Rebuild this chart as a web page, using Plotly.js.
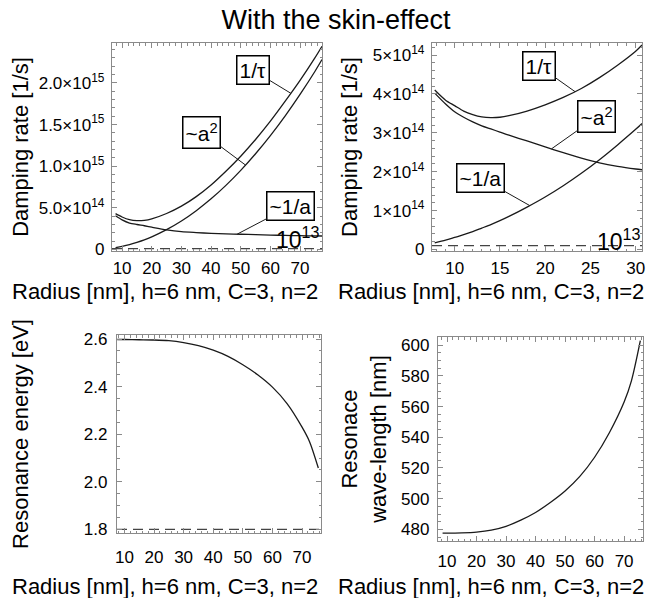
<!DOCTYPE html>
<html><head><meta charset="utf-8">
<script src="https://cdn.plot.ly/plotly-3.0.1.min.js"></script>
<style>html,body{margin:0;padding:0;background:#fff}#chart{width:649px;height:598px}</style>
</head><body><div id="chart"></div>
<script>
// ---------- Top-left panel: damping rates vs radius (1/s) ----------
const radiusTL = [7.8, 10, 12.5, 15, 17.5, 20, 25, 30, 35, 40, 45, 50, 55, 60, 65, 70, 75, 77.4];
const tauTL    = [4.30e14, 3.90e14, 3.58e14, 3.46e14, 3.50e14, 3.68e14, 4.32e14, 5.20e14, 6.35e14, 7.75e14, 9.40e14, 1.12e15, 1.32e15, 1.54e15, 1.78e15, 2.03e15, 2.30e15, 2.44e15];
const a2TL     = [2.3e13, 3.8e13, 5.9e13, 8.6e13, 1.16e14, 1.52e14, 2.38e14, 3.42e14, 4.66e14, 6.08e14, 7.70e14, 9.50e14, 1.15e15, 1.368e15, 1.605e15, 1.862e15, 2.137e15, 2.28e15];
const invaTL   = [4.05e14, 3.56e14, 3.18e14, 3.00e14, 2.85e14, 2.68e14, 2.36e14, 2.14e14, 2.03e14, 1.94e14, 1.88e14, 1.83e14, 1.78e14, 1.73e14, 1.69e14, 1.66e14, 1.63e14, 1.62e14];
const refRadiusTL = [6.6, 77.4];
const refLevelTL  = [1e13, 1e13];

// ---------- Top-right panel: zoom 7.5-30 nm ----------
const radiusTR = [7.8, 9, 10, 11, 12, 13, 14, 15, 16, 18, 20, 22, 24, 26, 28, 30, 30.7];
const tauTR    = [4.10e14, 3.84e14, 3.70e14, 3.56e14, 3.47e14, 3.41e14, 3.39e14, 3.40e14, 3.44e14, 3.56e14, 3.72e14, 3.91e14, 4.14e14, 4.42e14, 4.74e14, 5.10e14, 5.26e14];
const a2TR     = [1.7e13, 2.4e13, 3.1e13, 3.8e13, 4.6e13, 5.5e13, 6.4e13, 7.4e13, 8.5e13, 1.09e14, 1.35e14, 1.64e14, 1.96e14, 2.31e14, 2.69e14, 3.09e14, 3.24e14];
const invaTR   = [4.02e14, 3.74e14, 3.54e14, 3.40e14, 3.28e14, 3.18e14, 3.10e14, 3.02e14, 2.94e14, 2.79e14, 2.64e14, 2.49e14, 2.35e14, 2.23e14, 2.14e14, 2.07e14, 2.05e14];
const refRadiusTR = [7.5, 30.7];
const refLevelTR  = [1e13, 1e13];

// ---------- Bottom-left panel: resonance energy (eV) ----------
const radiusBL = [7.6, 10, 15, 20, 25, 30, 35, 40, 45, 50, 55, 60, 65, 70, 72.5, 75.5];
const energyBL = [2.598, 2.598, 2.597, 2.596, 2.593, 2.585, 2.572, 2.553, 2.527, 2.492, 2.450, 2.398, 2.328, 2.230, 2.170, 2.058];
const refRadiusBL = [7.5, 76.4];
const refLevelBL  = [1.8, 1.8];

// ---------- Bottom-right panel: resonance wavelength (nm) ----------
const radiusBR = [8.5, 10, 15, 20, 25, 30, 35, 40, 45, 50, 55, 60, 65, 70, 72.5, 75.5];
const lambdaBR = [477.5, 477.5, 477.7, 478.2, 479.5, 482.0, 486.0, 491.0, 497.5, 505.0, 514.5, 527.0, 543.0, 563.0, 577.0, 603.0];

// ---------- Text ----------
const mainTitle = 'With the skin-effect';
const xTitle = 'Radius [nm], h=6 nm, C=3, n=2';
const yTitleDamp = 'Damping rate [1/s]';
const yTitleEnergy = 'Resonance energy [eV]';
const yTitleLambda = 'Resonace<br>wave-length [nm]';
const tickValsTL = [0, 5e14, 1e15, 1.5e15, 2e15];
const tickTextTL = ['0', '5.0×10<sup>14</sup>', '1.0×10<sup>15</sup>', '1.5×10<sup>15</sup>', '2.0×10<sup>15</sup>'];
const tickValsTR = [0, 1e14, 2e14, 3e14, 4e14, 5e14];
const tickTextTR = ['0', '1×10<sup>14</sup>', '2×10<sup>14</sup>', '3×10<sup>14</sup>', '4×10<sup>14</sup>', '5×10<sup>14</sup>'];
const labelTau = '1/τ', labelA2 = '~a<sup>2</sup>', labelInvA = '~1/a', labelRef = '10<sup>13</sup>';

// ---------- Styling ----------
const FONT = '"Liberation Sans", Arial, sans-serif';
const FRAME = '#8a8a8a';
const INK = '#1a1a1a';
const W = 649, H = 598;

function interp(xs, ys, x) {
  for (let i = 0; i < xs.length - 1; i++) {
    if (x >= xs[i] && x <= xs[i + 1]) {
      const t = (x - xs[i]) / (xs[i + 1] - xs[i]);
      return ys[i] + t * (ys[i + 1] - ys[i]);
    }
  }
  return ys[ys.length - 1];
}
function line(x, y, xa, ya, dashed) {
  return {x: x, y: y, xaxis: xa, yaxis: ya, type: 'scatter', mode: 'lines',
    line: {color: dashed ? '#444' : INK, width: dashed ? 1.2 : 1.3, dash: dashed ? '10px,6px' : 'solid', shape: dashed ? 'linear' : 'spline', smoothing: 0.8},
    showlegend: false, hoverinfo: 'skip'};
}
function axis(px0, px1, isX, range, anchor, extra) {
  const dom = isX ? [px0 / W, px1 / W] : [1 - px1 / H, 1 - px0 / H];
  return Object.assign({
    domain: dom, range: range, anchor: anchor, showline: true, linecolor: FRAME, linewidth: 1.2,
    mirror: 'allticks', ticks: 'inside', ticklen: 5, tickwidth: 1, tickcolor: FRAME,
    showgrid: false, zeroline: false, fixedrange: true,
    tickfont: {family: FONT, size: 17, color: '#000'}
  }, extra);
}
function minor(d) { return {ticks: 'inside', ticklen: 2.5, tickcolor: FRAME, dtick: d, tick0: 0, showgrid: false}; }

const traces = [
  line(radiusTL, tauTL, 'x', 'y'), line(radiusTL, a2TL, 'x', 'y'), line(radiusTL, invaTL, 'x', 'y'),
  line(refRadiusTL, refLevelTL, 'x', 'y', true),
  line(radiusTR, tauTR, 'x2', 'y2'), line(radiusTR, a2TR, 'x2', 'y2'), line(radiusTR, invaTR, 'x2', 'y2'),
  line(refRadiusTR, refLevelTR, 'x2', 'y2', true),
  line(radiusBL, energyBL, 'x3', 'y3'), line(refRadiusBL, refLevelBL, 'x3', 'y3', true),
  line(radiusBR, lambdaBR, 'x4', 'y4')
];

function boxLabel(text, xr, yr, tipX, tipY, boxX, boxY) {
  return {text: text, xref: xr, yref: yr, axref: xr, ayref: yr, x: tipX, y: tipY, ax: boxX, ay: boxY,
    showarrow: true, arrowhead: 0, arrowwidth: 1, arrowcolor: INK, standoff: 0, startstandoff: 0,
    bgcolor: '#fff', bordercolor: '#000', borderwidth: 1.5, borderpad: 2,
    font: {family: FONT, size: 21, color: '#000'}};
}
function paperText(text, cx, cy) {
  return {text: text, xref: 'paper', yref: 'paper', x: cx / W, y: 1 - cy / H, xanchor: 'center', yanchor: 'middle',
    showarrow: false, font: {family: FONT, size: 22, color: '#000'}};
}
const tipTL1 = 66.9, tipTL2 = 51.6, tipTL3 = 48.8;
const tipTR1 = 23.3, tipTR2 = 20.7, tipTR3 = 18.3;
const annotations = [
  boxLabel(labelTau, 'x', 'y', tipTL1, interp(radiusTL, tauTL, tipTL1), 54.0, 2.155e15),
  boxLabel(labelA2, 'x', 'y', tipTL2, interp(radiusTL, a2TL, tipTL2), 36.7, 1.41e15),
  boxLabel(labelInvA, 'x', 'y', tipTL3, interp(radiusTL, invaTL, tipTL3), 66.9, 5.22e14),
  boxLabel(labelTau, 'x2', 'y2', tipTR1, interp(radiusTR, tauTR, tipTR1), 19.3, 4.72e14),
  boxLabel(labelA2, 'x2', 'y2', tipTR2, interp(radiusTR, invaTR, tipTR2), 25.7, 3.41e14),
  boxLabel(labelInvA, 'x2', 'y2', tipTR3, interp(radiusTR, a2TR, tipTR3), 12.9, 1.84e14),
  {text: labelRef, xref: 'x', yref: 'y', x: 69.3, y: 1.38e14, showarrow: false, font: {family: FONT, size: 23, color: '#000'}},
  {text: labelRef, xref: 'x2', yref: 'y2', x: 28.2, y: 2.4e13, showarrow: false, font: {family: FONT, size: 23, color: '#000'}},
  paperText(xTitle, 165, 291),
  paperText(xTitle, 491, 291),
  paperText(xTitle, 165, 586),
  paperText(xTitle, 491, 586)
];

const titleFont = {family: FONT, size: 22, color: '#000'};
const layout = {
  width: W, height: H, margin: {l: 0, r: 0, t: 0, b: 0}, paper_bgcolor: '#fff', plot_bgcolor: '#fff',
  font: {family: FONT, color: '#000'},
  title: {text: mainTitle, font: {family: FONT, size: 27, color: '#000'}, x: 336 / W, xanchor: 'center', y: 1 - 20 / H, yanchor: 'middle'},
  xaxis: axis(112, 322, true, [6.6, 77.4], 'y', {tick0: 0, dtick: 10, minor: minor(2), ticklabelstandoff: 1}),
  yaxis: axis(43, 251, false, [-1.8e13, 2.479e15], 'x', {tickmode: 'array', tickvals: tickValsTL, ticktext: tickTextTL, minor: minor(1e14), ticklabelstandoff: 3,
    title: {text: yTitleDamp, font: titleFont, standoff: 4}}),
  xaxis2: axis(432, 642, true, [7.5, 30.7], 'y2', {tick0: 0, dtick: 5, minor: minor(1), ticklabelstandoff: 1}),
  yaxis2: axis(43, 251, false, [-3.9e12, 5.31e14], 'x2', {tickmode: 'array', tickvals: tickValsTR, ticktext: tickTextTR, minor: minor(2e13), ticklabelstandoff: 3,
    title: {text: yTitleDamp, font: titleFont, standoff: 9}}),
  xaxis3: axis(117, 321, true, [7.5, 76.4], 'y3', {tick0: 0, dtick: 10, minor: minor(2), ticklabelstandoff: 8}),
  yaxis3: axis(335, 533, false, [1.785, 2.617], 'x3', {tick0: 0, dtick: 0.2, tickformat: '.1f', minor: minor(0.05), ticklabelstandoff: 5,
    title: {text: yTitleEnergy, font: titleFont, standoff: 49}}),
  xaxis4: axis(438, 643, true, [6.95, 76.4], 'y4', {tick0: 0, dtick: 10, minor: minor(2), ticklabelstandoff: 4}),
  yaxis4: axis(337, 541, false, [472.4, 605.4], 'x4', {tick0: 0, dtick: 20, minor: minor(5), ticklabelstandoff: 4,
    title: {text: yTitleLambda, font: titleFont, standoff: 8}}),
  annotations: annotations,
  showlegend: false
};
Plotly.newPlot('chart', traces, layout, {staticPlot: true, displayModeBar: false});
</script></body></html>
